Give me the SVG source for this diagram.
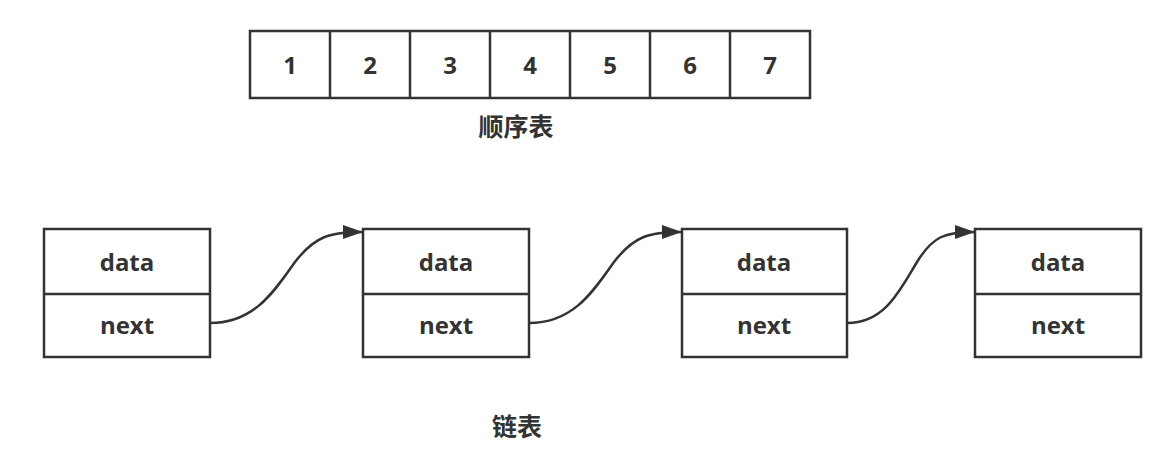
<svg xmlns="http://www.w3.org/2000/svg" width="1169" height="466" viewBox="0 0 1169 466">
<style>
.box{fill:#fff;stroke:#333;stroke-width:2.5}
.ln{fill:none;stroke:#333;stroke-width:2.5}
.t{font-family:"Open Sans","Liberation Sans",sans-serif;font-weight:bold;font-size:24px;fill:#333;text-anchor:middle;dominant-baseline:central}
.cap{font-family:"Noto Sans CJK SC",sans-serif;font-weight:bold;font-size:25px;fill:#333;text-anchor:middle;dominant-baseline:central}
.edge{fill:none;stroke:#333;stroke-width:2.5}
</style>
<defs>
<marker id="ah" markerUnits="userSpaceOnUse" markerWidth="22" markerHeight="14" refX="20" refY="7" orient="auto">
<path d="M0,0 L20,7 L0,14 Z" fill="#333"/>
</marker>
</defs>
<rect width="1169" height="466" fill="#fff"/>
<g id="array">
<rect class="box" x="250" y="31" width="560" height="67"/>
<line class="ln" x1="330" y1="31" x2="330" y2="98"/>
<line class="ln" x1="410" y1="31" x2="410" y2="98"/>
<line class="ln" x1="490" y1="31" x2="490" y2="98"/>
<line class="ln" x1="570" y1="31" x2="570" y2="98"/>
<line class="ln" x1="650" y1="31" x2="650" y2="98"/>
<line class="ln" x1="730" y1="31" x2="730" y2="98"/>
<text class="t" x="290" y="64">1</text>
<text class="t" x="370" y="64">2</text>
<text class="t" x="450" y="64">3</text>
<text class="t" x="530" y="64">4</text>
<text class="t" x="610" y="64">5</text>
<text class="t" x="690" y="64">6</text>
<text class="t" x="770" y="64">7</text>
</g>
<g id="caption-array"><text class="cap" x="516" y="125">顺序表</text></g>
<g id="node1">
<rect class="box" x="44" y="229" width="166" height="128"/>
<line class="ln" x1="44" y1="294" x2="210" y2="294"/>
<text class="t" x="127" y="261">data</text>
<text class="t" x="127" y="324">next</text>
</g>
<g id="node2">
<rect class="box" x="363" y="229" width="166" height="128"/>
<line class="ln" x1="363" y1="294" x2="529" y2="294"/>
<text class="t" x="446" y="261">data</text>
<text class="t" x="446" y="324">next</text>
</g>
<g id="node3">
<rect class="box" x="682" y="229" width="165" height="128"/>
<line class="ln" x1="682" y1="294" x2="847" y2="294"/>
<text class="t" x="764" y="261">data</text>
<text class="t" x="764" y="324">next</text>
</g>
<g id="node4">
<rect class="box" x="975" y="229" width="166" height="128"/>
<line class="ln" x1="975" y1="294" x2="1141" y2="294"/>
<text class="t" x="1058" y="261">data</text>
<text class="t" x="1058" y="324">next</text>
</g>
<g id="caption-list"><text class="cap" x="517" y="425">链表</text></g>
<g id="connectors">
<path class="edge" marker-end="url(#ah)" d="M210,323 C255,323 275,290 295,262 C315,236 330,232 363,232"/>
<path class="edge" marker-end="url(#ah)" d="M529,323 C574,323 594,290 614,262 C634,236 649,232 682,232"/>
<path class="edge" marker-end="url(#ah)" d="M847,323 C885,323 900,290 917,262 C933,236 945,232 975,232"/>
</g>
</svg>
